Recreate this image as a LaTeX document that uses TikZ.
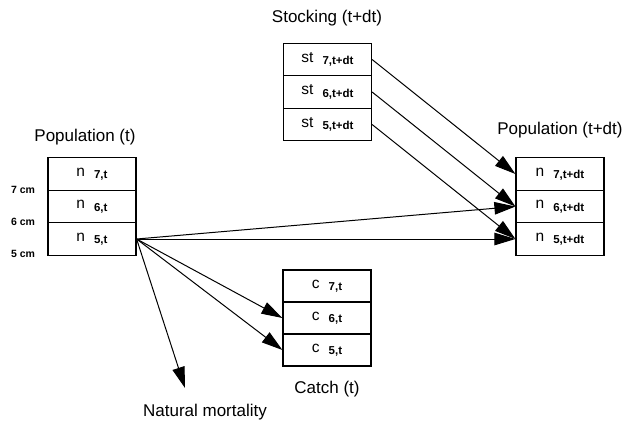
\documentclass[tikz,border=0pt]{standalone}
\usepackage{fontspec}
\setmainfont{Liberation Sans}
\usetikzlibrary{arrows.meta}
\newcommand{\cellt}[2]{{\fontsize{15.5}{15}\selectfont #1}\hspace{9pt}\raisebox{-2.5pt}{\fontsize{11.5}{11}\selectfont\bfseries #2}}
\tikzset{
  cellbox/.style={draw, line width=1.2pt, minimum width=88pt, minimum height=32.5pt, inner sep=0pt},
  ttl/.style={anchor=base, font=\fontsize{17}{17}\selectfont},
  cmlab/.style={font=\fontsize{10.5}{10}\selectfont\bfseries},
  flow/.style={line width=1pt, -{Triangle[length=21pt,width=12.5pt]}},
}
\begin{document}
\begin{tikzpicture}[x=1pt,y=-1pt]
\useasboundingbox (0,0) rectangle (626,425);
% Population (t)
\node[ttl] (tp) at (85,142) {Population (t)};
\node[cellbox] (n7) at (92,174) {\cellt{n}{7,t}};
\node[cellbox] (n6) at (92,206.5) {\cellt{n}{6,t}};
\node[cellbox] (n5) at (92,239) {\cellt{n}{5,t}};
\node[cmlab] (l7) at (23,190) {7 cm};
\node[cmlab] (l6) at (23,222) {6 cm};
\node[cmlab] (l5) at (23,254) {5 cm};
% Stocking
\node[ttl] (ts) at (327,23) {Stocking (t+dt)};
\node[cellbox] (s7) at (327.5,59.5) {\cellt{st}{7,t+dt}};
\node[cellbox] (s6) at (327.5,92) {\cellt{st}{6,t+dt}};
\node[cellbox] (s5) at (327.5,124.5) {\cellt{st}{5,t+dt}};
% Population (t+dt)
\node[ttl] (tq) at (560,135) {Population (t+dt)};
\node[cellbox] (m7) at (560,174) {\cellt{n}{7,t+dt}};
\node[cellbox] (m6) at (560,206.5) {\cellt{n}{6,t+dt}};
\node[cellbox] (m5) at (560,239) {\cellt{n}{5,t+dt}};
% Catch
\node[cellbox, minimum height=32pt] (c7) at (327,286) {\cellt{c}{7,t}};
\node[cellbox, minimum height=32pt] (c6) at (327,318) {\cellt{c}{6,t}};
\node[cellbox, minimum height=32pt] (c5) at (327,350) {\cellt{c}{5,t}};
\node[ttl] (tc) at (327,393) {Catch (t)};
% Natural mortality
\node[ttl] (nm) at (205,416) {Natural mortality};
\coordinate (nmend) at (185,388);
% arrows
\draw[flow] (n5.east) -- (m6.west);
\draw[flow] (n5.east) -- (m5.west);
\draw[flow] (n5.east) -- (c6.west);
\draw[flow] (n5.east) -- (c5.west);
\draw[flow] (n5.east) -- (nmend);
\draw[flow] (s7.east) -- (m7.west);
\draw[flow] (s6.east) -- (m6.west);
\draw[flow] (s5.east) -- (m5.west);
\end{tikzpicture}
\end{document}
